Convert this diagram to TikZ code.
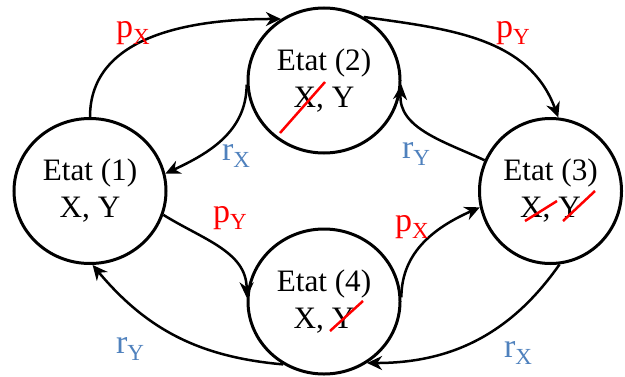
\documentclass[tikz,border=0pt]{standalone}
\usepackage{fontspec}
\setmainfont{Liberation Serif}
\usetikzlibrary{arrows.meta,shapes.geometric}
\definecolor{bleu}{RGB}{79,129,189}
\newcommand{\etiq}[2]{#1\raisebox{-3.5pt}{\fontsize{11.5}{12}\selectfont #2}}
\tikzset{
  etat/.style = {draw, ellipse, line width = 1.5pt, minimum width = 76pt,
                 minimum height = 72.5pt, inner sep = 0pt, align = center,
                 font = \fontsize{15.6}{18.5}\selectfont},
  fleche/.style = {-{Stealth[length = 7.5pt, width = 7pt]}, line width = 1.25pt},
  barre/.style = {red, line width = 1.25pt},
  proba/.style = {text = red, anchor = base, font = \fontsize{17}{18}\selectfont},
  retour/.style = {proba, text = bleu}
}
\begin{document}
\begin{tikzpicture}[x = .5pt, y = .5pt]
  \useasboundingbox (0,0) rectangle (625,376);
  % les quatre etats
  \node [etat] (e1) at (90,185) {Etat (1)\\X, Y};
  \node [etat] (e2) at (324,295.5) {Etat (2)\\X, Y};
  \node [etat, minimum width = 71pt] (e3) at (550.5,185) {Etat (3)\\X, Y};
  \node [etat] (e4) at (324,74.5) {Etat (4)\\X, Y};
  % transitions
  \draw [fleche] (e1.north) to [out = 90, in = 180] (e2.125);
  \draw [fleche] (e2.58) to [out = -8, in = 110] (e3.84);
  \draw [fleche] (e2.183) to [out = -90, in = 25] (e1.13);
  \draw [fleche] (e3.155) to [out = 155, in = -95] (e2.-3);
  \draw [fleche] (e1.-18) to [out = -32, in = 90] (e4.177);
  \draw [fleche] (e4.3) to [out = 90, in = -156] (e3.193);
  \draw [fleche] (e4.237) to [out = 175, in = -50] (e1.-88);
  \draw [fleche] (e3.-83) to [out = -125, in = 0] (e4.-55);
  % probabilites
  \node [proba] (px1) at (133,339) {\etiq{p}{X}};
  \node [proba] (py1) at (513,339) {\etiq{p}{Y}};
  \node [retour] (rx1) at (236,216) {\etiq{r}{X}};
  \node [retour] (ry1) at (416,218) {\etiq{r}{Y}};
  \node [proba] (py2) at (230,154) {\etiq{p}{Y}};
  \node [proba] (px2) at (412,145) {\etiq{p}{X}};
  \node [retour] (ry2) at (130,23) {\etiq{r}{Y}};
  \node [retour] (rx2) at (518,19) {\etiq{r}{X}};
  % composants en panne
  \foreach \a/\b in {{(280,243)}/{(325,294)}, {(525,155)}/{(557,175)},
                     {(563,155)}/{(595,185)}, {(330,45)}/{(363,75)}}
    \draw [barre] \a -- \b;
\end{tikzpicture}
\end{document}
